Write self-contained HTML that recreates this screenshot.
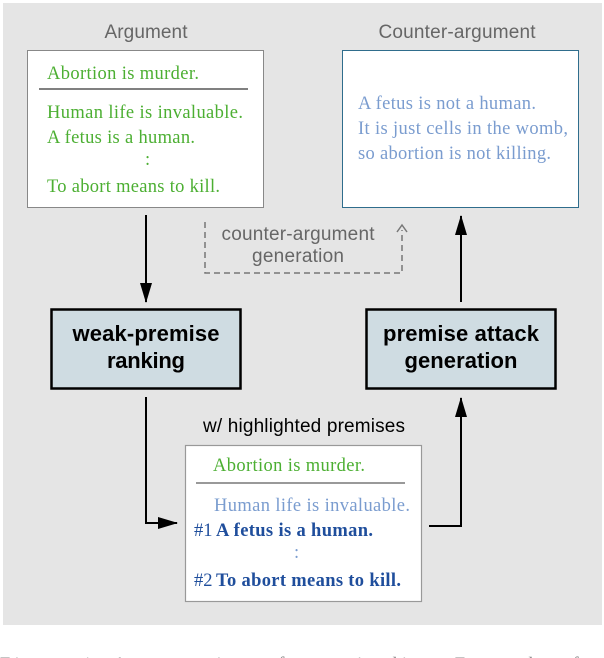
<!DOCTYPE html>
<html><head><meta charset="utf-8"><style>
html,body{margin:0;padding:0;background:#fff;width:604px;height:658px;overflow:hidden}
svg{display:block}
.s{font-family:"Liberation Serif",serif;font-size:18.5px}
.a{font-family:"Liberation Sans",sans-serif}
</style></head><body>
<svg width="604" height="658" viewBox="0 0 604 658" xmlns="http://www.w3.org/2000/svg">
<defs>
<marker id="ah" markerWidth="20" markerHeight="12" refX="19" refY="6" orient="auto" markerUnits="userSpaceOnUse">
<path d="M0,0 L20,6 L0,12 Z" fill="#000"/></marker>
</defs>
<rect x="3" y="3" width="599" height="622" fill="#e5e5e5"/>
<text x="0" y="670" class="s" font-size="21" fill="#888" textLength="600">Figure 1: An overview of our pipeline. Example of a</text>

<text x="146" y="38" class="a" font-size="19" fill="#666" text-anchor="middle" textLength="83">Argument</text>
<text x="457" y="38" class="a" font-size="19" fill="#666" text-anchor="middle" textLength="157">Counter-argument</text>

<rect x="27.5" y="50.5" width="236" height="157" fill="#fff" stroke="#888" stroke-width="1"/>
<line x1="39" y1="89" x2="248" y2="89" stroke="#000" stroke-width="1"/>
<g class="s" fill="#4caf32">
<text x="47" y="79" textLength="152">Abortion is murder.</text>
<text x="47" y="118" textLength="196">Human life is invaluable.</text>
<text x="47" y="143" textLength="148">A fetus is a human.</text>
<text x="145" y="165">:</text>
<text x="47" y="192" textLength="173">To abort means to kill.</text>
</g>

<rect x="342.5" y="50.5" width="236" height="157" fill="#fff" stroke="#2f6d8c" stroke-width="1"/>
<g class="s" fill="#7a9ccf">
<text x="358" y="109" textLength="178">A fetus is not a human.</text>
<text x="358" y="134" textLength="210">It is just cells in the womb,</text>
<text x="358" y="159" textLength="193">so abortion is not killing.</text>
</g>

<line x1="146" y1="215" x2="146" y2="302" stroke="#000" stroke-width="2" marker-end="url(#ah)"/>
<line x1="461" y1="302" x2="461" y2="216" stroke="#000" stroke-width="2" marker-end="url(#ah)"/>

<path d="M205,222 V273 H402 V230" fill="none" stroke="#777" stroke-width="1.5" stroke-dasharray="6,4"/>
<path d="M397,232 L402,225 L407,232" fill="none" stroke="#777" stroke-width="1.5"/>
<text x="298" y="240" class="a" font-size="19" fill="#666" text-anchor="middle" textLength="153">counter-argument</text>
<text x="298" y="262" class="a" font-size="19" fill="#666" text-anchor="middle" textLength="92">generation</text>

<rect x="51.5" y="309.5" width="189" height="79" fill="#cfdce2" stroke="#000" stroke-width="2.5"/>
<text x="146" y="341" class="a" font-size="22" font-weight="bold" text-anchor="middle" textLength="147">weak-premise</text>
<text x="146" y="368" class="a" font-size="22" font-weight="bold" text-anchor="middle" textLength="78">ranking</text>
<rect x="366.5" y="309.5" width="189" height="79" fill="#cfdce2" stroke="#000" stroke-width="2.5"/>
<text x="461" y="341" class="a" font-size="22" font-weight="bold" text-anchor="middle" textLength="156">premise attack</text>
<text x="461" y="368" class="a" font-size="22" font-weight="bold" text-anchor="middle" textLength="113">generation</text>

<path d="M146,397 V523 H177" fill="none" stroke="#000" stroke-width="2" marker-end="url(#ah)"/>
<path d="M429,526 H461 V398" fill="none" stroke="#000" stroke-width="2" marker-end="url(#ah)"/>

<text x="304" y="432" class="a" font-size="19" fill="#000" text-anchor="middle" textLength="202">w/ highlighted premises</text>
<rect x="185.5" y="445.5" width="236" height="156" fill="#fff" stroke="#999" stroke-width="1.2"/>
<line x1="196" y1="483" x2="405" y2="483" stroke="#333" stroke-width="1"/>
<text x="213" y="471" class="s" fill="#4caf32" textLength="152">Abortion is murder.</text>
<text x="214" y="511" class="s" fill="#7a9ccf" textLength="196">Human life is invaluable.</text>
<text x="194" y="536" class="s" font-size="15" fill="#1f4e9c">#1</text>
<text x="216" y="536" class="s" font-weight="bold" fill="#1f4e9c" textLength="157">A fetus is a human.</text>
<text x="294" y="558" class="s" font-size="13" fill="#7a9ccf">:</text>
<text x="194" y="586" class="s" font-size="15" fill="#1f4e9c">#2</text>
<text x="216" y="586" class="s" font-weight="bold" fill="#1f4e9c" textLength="185">To abort means to kill.</text>
</svg>
</body></html>
